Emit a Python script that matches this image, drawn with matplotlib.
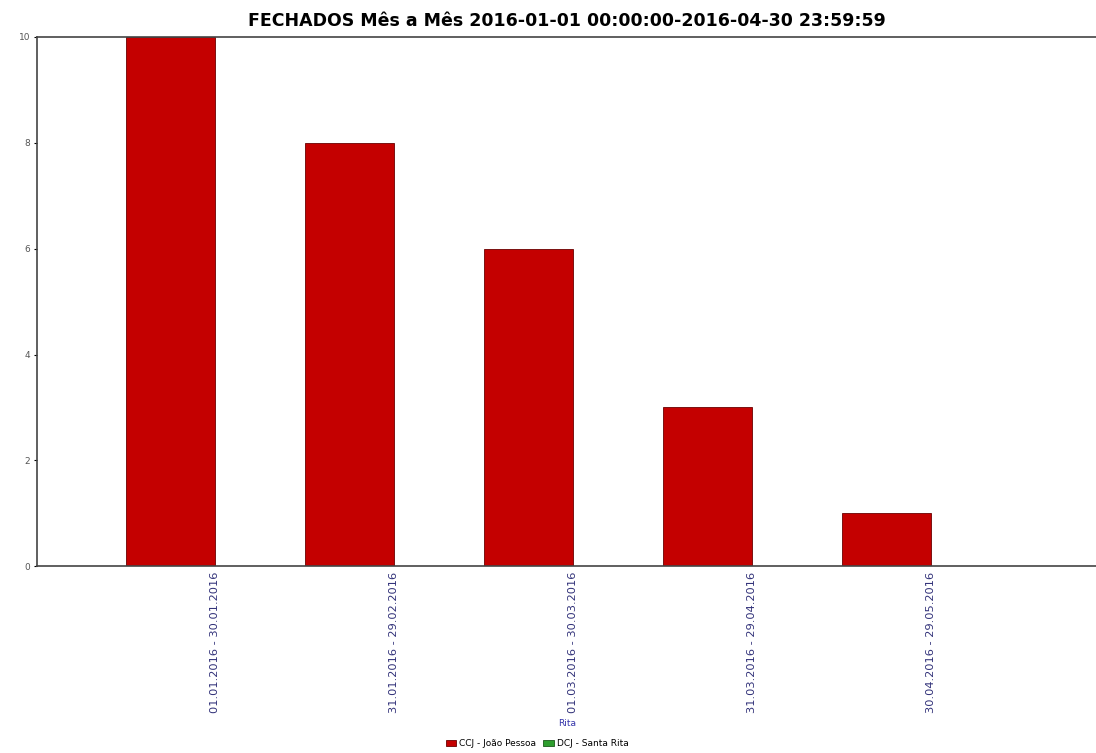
import matplotlib
matplotlib.use("Agg")
import matplotlib.pyplot as plt
import numpy as np

periods = [
    "01.01.2016 - 30.01.2016",
    "31.01.2016 - 29.02.2016",
    "01.03.2016 - 30.03.2016",
    "31.03.2016 - 29.04.2016",
    "30.04.2016 - 29.05.2016",
]
joao_pessoa = [10, 8, 6, 3, 1]
santa_rita = [0, 0, 0, 0, 0]
series_names = ["CCJ - João Pessoa", "DCJ - Santa Rita"]

fig = plt.figure(figsize=(10.96, 7.53), dpi=100)
ax = fig.add_axes([0.034, 0.248, 0.966, 0.703])

x = np.arange(len(periods))
w = 0.5
ax.bar(x - w / 2, joao_pessoa, w, color="#c40000", edgecolor="#6a0000",
       linewidth=0.6, label=series_names[0])
ax.bar(x + w / 2, santa_rita, w, color="#2e9e2e", edgecolor="#1a5a1a",
       linewidth=0.6, label=series_names[1])

ax.set_xlim(-0.995, 4.92)
ax.set_ylim(0, 10)
ax.set_yticks([0, 2, 4, 6, 8, 10])
ax.set_xticks(x)
ax.set_xticklabels(periods, rotation=90, fontsize=8.2, color="#33337a")
ax.tick_params(axis="y", labelsize=6.5, labelcolor="#555555", length=2, pad=3)
ax.tick_params(axis="x", length=0, pad=4)

for side in ["top", "bottom", "left"]:
    ax.spines[side].set_color("#444444")
    ax.spines[side].set_linewidth(1.2)
ax.spines["right"].set_visible(False)

ax.set_title("FECHADOS Mês a Mês 2016-01-01 00:00:00-2016-04-30 23:59:59",
             fontsize=12.5, fontweight="bold", pad=8)
ax.set_xlabel("Rita", fontsize=6.5, color="#3333aa", labelpad=4)

leg_handles, leg_labels = ax.get_legend_handles_labels()
fig.legend(leg_handles, leg_labels, loc="center", ncol=2, frameon=False,
           fontsize=6.5, bbox_to_anchor=(0.49, 0.012), handlelength=1.2,
           handleheight=0.7, handletextpad=0.3, columnspacing=0.8,
           borderpad=0.1)

fig.savefig("out.png", dpi=100)
